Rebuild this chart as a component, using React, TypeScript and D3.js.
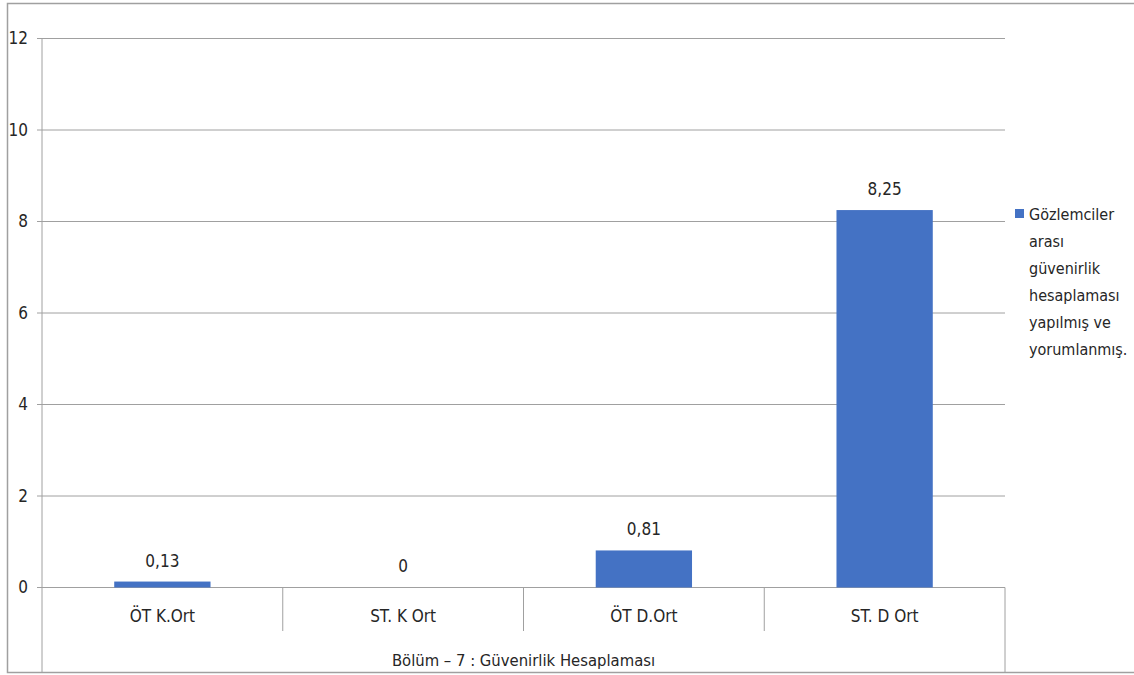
import React from "react";
import * as d3 from "d3";

const categories = ["ÖT K.Ort", "ST. K Ort", "ÖT D.Ort", "ST. D Ort"];
const values = [0.13, 0, 0.81, 8.25];
const valueLabels = ["0,13", "0", "0,81", "8,25"];
const yTicks = [0, 2, 4, 6, 8, 10, 12];
const groupLabel = "Bölüm – 7 : Güvenirlik Hesaplaması";
const legendLines = ["Gözlemciler", "arası", "güvenirlik", "hesaplaması", "yapılmış ve", "yorumlanmış."];

const W = 1134, H = 675;
const FONT = "'Liberation Sans Narrow', 'DejaVu Sans Condensed', 'Arial Narrow', sans-serif";
const TXT = "#262626";
const GRID = "#a0a0a0";
const BAR = "#4472C4";

export default function App() {
  const left = 42, right = 1005, top = 38.5, zeroY = 587.5;
  const y = d3.scaleLinear().domain([0, 12]).range([zeroY, top]);
  const x = d3.scaleBand<string>().domain(categories).range([left, right]).paddingInner(0).paddingOuter(0);
  const bw = x.bandwidth() * 0.4;
  return (
    <svg width={W} height={H} style={{ position: "absolute", left: 0, top: 0 }} fontFamily={FONT}>
      <rect x={0} y={0} width={W} height={H} fill="#fff" />
      {/* outer border */}
      <rect x={7.5} y={3.5} width={W + 5} height={669} fill="none" stroke={GRID} strokeWidth={1.5} />
      {/* gridlines */}
      {yTicks.map((t) => (
        <g key={t}>
          <line x1={left - 5} x2={right} y1={y(t)} y2={y(t)} stroke={GRID} strokeWidth={1} />
          <text x={28} y={y(t)} dy="0.35em" textAnchor="end" fontSize={17} fill={TXT}>{t}</text>
        </g>
      ))}
      {/* y axis line */}
      <line x1={left} x2={left} y1={top} y2={673} stroke={GRID} strokeWidth={1} />
      {/* category dividers */}
      {categories.slice(1).map((c) => (
        <line key={c} x1={x(c)!} x2={x(c)!} y1={zeroY} y2={631} stroke={GRID} strokeWidth={1} />
      ))}
      <line x1={right} x2={right} y1={zeroY} y2={673} stroke={GRID} strokeWidth={1} />
      {/* bars */}
      {categories.map((c, i) => {
        const cx = x(c)! + x.bandwidth() / 2;
        return (
          <g key={c}>
            <rect x={cx - bw / 2} y={y(values[i])} width={bw} height={zeroY - y(values[i])} fill={BAR} />
            <text x={cx} y={y(values[i]) - 21} textAnchor="middle" dy="0.35em" fontSize={17} fill={TXT}>{valueLabels[i]}</text>
            <text x={cx} y={616} textAnchor="middle" dy="0.35em" fontSize={17} fill={TXT}>{c}</text>
          </g>
        );
      })}
      <text x={(left + right) / 2} y={660} textAnchor="middle" dy="0.35em" fontSize={16.5} fill={TXT}>{groupLabel}</text>
      {/* legend */}
      <rect x={1015} y={209} width={9} height={9} fill={BAR} />
      {legendLines.map((l, i) => (
        <text key={i} x={1029} y={214 + i * 27} dy="0.35em" fontSize={16} fill={TXT}>{l}</text>
      ))}
    </svg>
  );
}
